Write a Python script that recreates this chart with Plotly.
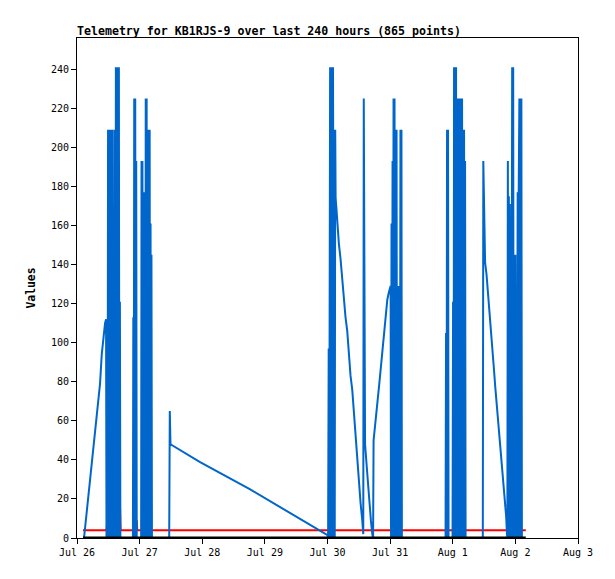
import pandas as pd
import plotly.graph_objects as go

# hours after Jul 26 00:00 and values
blue_hours = [
    2.69, 3.46, 4.22, 4.99, 5.76, 6.53, 7.30, 8.06, 8.83, 9.48, 10.1, 10.75, 11.14, 11.3,
    11.71, 11.9, 12.1, 12.29, 12.48, 12.67, 12.86, 13.06, 13.25, 13.44, 13.63, 13.82, 13.98,
    14.13, 14.28, 14.44, 14.59, 14.75, 14.9, 15.09, 15.28, 15.48, 15.67, 15.86, 16.05, 16.24,
    16.44, 16.63,
    21.43, 21.58, 21.73, 21.93, 22.12, 22.31, 22.5, 22.69, 22.89,
    24.58, 24.73, 24.88, 25.07, 25.27, 25.46, 25.65, 25.84, 26.04, 26.23, 26.34, 26.53, 26.69,
    26.88, 27.07, 27.26, 27.46, 27.65, 27.84, 28.03, 28.19, 28.34, 28.53, 28.72,
    35.33, 35.56, 35.83, 47.0, 66.2, 85.4, 96.0,
    96.23, 96.46, 96.65, 96.84, 97.0, 97.19, 97.38, 97.57, 97.77, 97.96, 98.11, 98.27, 98.42,
    98.57, 98.77, 98.96, 99.11,
    99.46, 99.72, 100.34, 100.99, 101.64, 102.26, 102.91, 103.56, 104.18, 104.83, 105.48,
    106.1, 106.75, 107.4, 108.02, 108.67, 109.32, 109.71,
    109.9, 110.4, 111.24, 111.63, 112.13, 112.63, 113.16, 113.47, 113.66,
    114.43, 115.08, 115.7, 116.35, 117.0, 117.62, 118.27, 118.92, 119.54, 120.19,
    120.35, 120.54, 120.74, 120.93, 121.12, 121.31, 121.5, 121.69, 121.88, 122.08, 122.27,
    122.46, 122.65, 122.81, 123.0, 123.19, 123.38, 123.57, 123.76, 123.96, 124.15, 124.34, 124.5,
    141.24, 141.43, 141.62, 141.81, 142.0, 142.2, 142.39,
    143.92, 144.12, 144.31, 144.5, 144.69, 144.88, 145.08, 145.27, 145.46, 145.65, 145.84,
    146.04, 146.23, 146.42, 146.61, 146.8, 147.0, 147.19, 147.38, 147.57, 147.76, 147.96,
    148.15, 148.34, 148.53, 148.72, 148.92,
    155.52, 155.71, 156.02, 156.4, 156.94, 157.32, 157.71, 158.09, 158.32, 158.71, 159.09,
    159.48, 159.87, 160.25, 160.63, 161.02, 161.4, 161.79, 162.17, 162.55, 162.93, 163.32,
    163.7, 164.08, 164.47, 164.8,
    164.93, 165.12, 165.31, 165.5, 165.7, 165.89, 166.08, 166.27, 166.46, 166.77, 166.96,
    167.16, 167.35, 167.54, 167.74, 168.0, 168.19, 168.42, 168.58, 168.88, 169.08, 169.27,
    169.54, 169.73, 169.92, 170.11, 170.3, 170.5,
]
blue_values = [
    0, 10, 20, 31, 41, 51, 62, 72, 79, 94, 104, 110, 112, 0,
    0, 209, 0, 209, 0, 209, 0, 209, 0, 209, 0, 161, 80,
    0, 209, 0, 209, 0, 241, 0, 241, 0, 241, 0, 241, 0,
    121, 0,
    0, 113, 0, 225, 0, 225, 0, 193, 0,
    0, 193, 0, 193, 32, 0, 177, 0, 177, 0, 225, 0, 225,
    0, 209, 0, 209, 0, 209, 0, 161, 0, 145, 0,
    0, 65, 48, 39, 25, 10, 1.5,
    0, 97, 0, 97, 241, 0, 241, 0, 241, 0, 241, 145, 0,
    209, 0, 209, 174,
    168, 161, 151, 143, 132, 124, 113, 106, 94, 83, 76,
    64, 52, 41, 30, 18, 9, 2,
    225, 48, 33, 25, 16, 9, 2, 0, 50,
    59, 67, 77, 86, 95, 105, 112, 122, 126, 129,
    0, 161, 0, 193, 0, 225, 0, 225, 0, 209, 0,
    209, 0, 88, 0, 129, 0, 129, 0, 209, 0, 209, 0,
    0, 105, 0, 209, 0, 209, 0,
    0, 121, 0, 241, 0, 241, 0, 241, 0, 225, 0,
    225, 0, 225, 0, 209, 0, 225, 0, 225, 0, 209,
    0, 209, 0, 193, 0,
    0, 193, 169, 141, 135, 129, 123, 117, 110, 104, 98,
    91, 85, 78, 72, 66, 60, 54, 47, 41, 35, 28,
    22, 16, 11, 1.5,
    0, 193, 0, 175, 0, 171, 0, 164, 0, 241, 0,
    241, 0, 133, 0, 145, 0, 105, 0, 177, 0, 177,
    225, 0, 225, 0, 225, 0,
]

red_hours = [2.3, 11.3, 11.5, 11.7, 16.4, 16.5, 16.7, 22.8, 22.9, 23.1, 172.0]
red_values = [4, 4, 6.6, 4, 4, 15, 4, 4, 9, 4, 4]

black_hours = [2.3, 172.0]
black_values = [0, 0]

y_ticks = list(range(0, 241, 20))
start = pd.Timestamp("2024-07-26")


def to_time(hours):
    return start + pd.to_timedelta(hours, unit="h")


mono = "DejaVu Sans Mono"

fig = go.Figure()
fig.add_trace(go.Scatter(x=to_time(red_hours), y=red_values, mode="lines",
                         line=dict(color="#ff0000", width=2), name="red"))
fig.add_trace(go.Scatter(x=to_time(blue_hours), y=blue_values, mode="lines",
                         line=dict(color="#0066cc", width=2), name="blue"))
fig.add_trace(go.Scatter(x=to_time(black_hours), y=black_values, mode="lines",
                         line=dict(color="#000000", width=3), name="black"))

# page is drawn with an 8px body margin, so margins are shifted to compensate
fig.update_layout(
    width=615, height=579,
    margin=dict(l=69, r=45, t=30, b=49),
    paper_bgcolor="white", plot_bgcolor="white",
    showlegend=False,
    font=dict(family=mono, size=10, color="black"),
    title=dict(text="Telemetry for KB1RJS-9 over last 240 hours (865 points)",
               font=dict(family=mono, size=11.6, weight=700, color="black"),
               x=69 / 615, xanchor="left", xref="container",
               y=1 - 22.5 / 579, yanchor="middle", yref="container"),
)
fig.update_xaxes(
    type="date", range=[start, start + pd.Timedelta(days=8)],
    tick0=start, dtick=86400000, tickformat="%b %-d",
    ticks="outside", ticklen=5, tickcolor="black",
    showline=True, linecolor="black", linewidth=1, mirror=True,
    showgrid=False, zeroline=False,
    tickfont=dict(family=mono, size=10, color="black"),
)
fig.update_yaxes(
    range=[0, 256], tickvals=y_ticks,
    ticks="outside", ticklen=5, tickcolor="black",
    showline=True, linecolor="black", linewidth=1, mirror=True,
    showgrid=False, zeroline=False,
    tickfont=dict(family=mono, size=10, color="black"),
    title=dict(text="Values", standoff=12,
               font=dict(family=mono, size=11.4, weight=700, color="black")),
)

fig.write_html("out.html")
